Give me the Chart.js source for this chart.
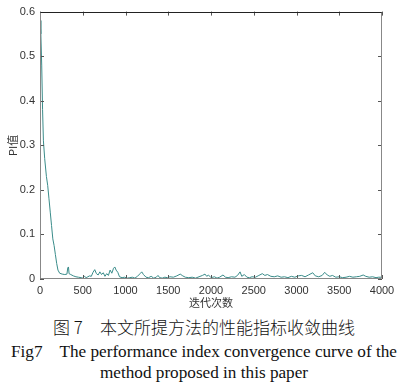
<!DOCTYPE html>
<html>
<head>
<meta charset="utf-8">
<script src="https://cdn.jsdelivr.net/npm/chart.js@4/dist/chart.umd.min.js"></script>
<style>
  html,body{margin:0;padding:0;background:#fff;}
  #wrap{position:relative;width:408px;height:312px;}
  .cap{position:absolute;left:0;width:408px;text-align:center;color:#111;white-space:pre;}
  #c1{top:315px;font-family:"Noto Sans CJK SC";font-size:17px;line-height:24px;font-weight:300;}
  #c2{top:340px;font-family:"Liberation Serif","Times New Roman",serif;font-size:17.2px;line-height:24px;}
  #c3{top:361px;font-family:"Liberation Serif","Times New Roman",serif;font-size:17.2px;line-height:24px;}
</style>
</head>
<body>
<div id="wrap"><canvas id="chart" width="408" height="312"></canvas></div>
<div class="cap" id="c1">图 7　本文所提方法的性能指标收敛曲线</div>
<div class="cap" id="c2">Fig7    The performance index convergence curve of the</div>
<div class="cap" id="c3">method proposed in this paper</div>
<script>
const iterations = [0,10,20,30,40,55,75,90,105,120,135,150,165,180,195,210,230,260,290,315,325,333,340,360,390,420,450,480,500,520,540,560,580,600,620,640,660,680,700,720,740,760,780,800,820,840,860,875,890,910,930,960,990,1020,1050,1080,1110,1140,1170,1190,1210,1240,1270,1300,1330,1360,1380,1400,1430,1460,1490,1520,1560,1600,1640,1670,1700,1740,1780,1820,1860,1900,1930,1950,1970,2000,2040,2070,2100,2140,2170,2200,2240,2280,2310,2340,2360,2390,2420,2450,2480,2520,2560,2600,2630,2660,2700,2740,2780,2820,2860,2900,2940,2980,3020,3060,3100,3140,3190,3220,3260,3300,3330,3360,3390,3420,3460,3500,3540,3580,3620,3660,3700,3740,3780,3810,3850,3890,3930,3960,4000];
const piValues = [0.58,0.55,0.48,0.38,0.31,0.27,0.23,0.21,0.18,0.15,0.12,0.09,0.075,0.055,0.035,0.02,0.013,0.011,0.01,0.011,0.025,0.027,0.012,0.01,0.007,0.005,0.004,0.003,0.002,0.006,0.003,0.005,0.007,0.006,0.015,0.021,0.012,0.009,0.016,0.01,0.014,0.006,0.012,0.008,0.02,0.013,0.024,0.027,0.02,0.015,0.005,0.003,0.004,0.002,0.003,0.004,0.002,0.006,0.012,0.016,0.01,0.004,0.003,0.006,0.002,0.004,0.008,0.003,0.002,0.004,0.003,0.005,0.004,0.007,0.011,0.007,0.004,0.003,0.004,0.002,0.005,0.008,0.011,0.006,0.009,0.003,0.005,0.002,0.004,0.009,0.004,0.003,0.005,0.004,0.008,0.016,0.006,0.01,0.004,0.003,0.005,0.004,0.008,0.012,0.008,0.01,0.006,0.005,0.007,0.004,0.005,0.003,0.006,0.004,0.007,0.008,0.005,0.009,0.014,0.007,0.005,0.008,0.015,0.009,0.006,0.008,0.004,0.005,0.003,0.004,0.006,0.004,0.005,0.006,0.009,0.006,0.004,0.005,0.003,0.004,0.004];
const xTicks = [0,500,1000,1500,2000,2500,3000,3500,4000];
const yTicks = [0,0.1,0.2,0.3,0.4,0.5,0.6];
const xTitle = '迭代次数';
const yTitle = 'PI值';

const framePlugin = {
  id:'frame',
  afterDatasetsDraw(chart){
    const {ctx, chartArea:a, scales:{x,y}} = chart;
    ctx.save();
    ctx.lineWidth = 1;
    ctx.strokeStyle = '#555';
    ctx.beginPath();
    xTicks.forEach(v=>{const px=Math.round(x.getPixelForValue(v))+0.5;
      ctx.moveTo(px,a.bottom);ctx.lineTo(px,a.bottom-4);
      ctx.moveTo(px,a.top);ctx.lineTo(px,a.top+4);});
    yTicks.forEach(v=>{const py=Math.round(y.getPixelForValue(v))+0.5;
      ctx.moveTo(a.left,py);ctx.lineTo(a.left+4,py);
      ctx.moveTo(a.right,py);ctx.lineTo(a.right-4,py);});
    ctx.stroke();
    ctx.strokeStyle='#888';
    ctx.beginPath();
    const L=Math.round(a.left)+0.5,R=Math.round(a.right)-0.5,T=Math.round(a.top)+0.5,B=Math.round(a.bottom)-0.5;
    ctx.moveTo(L,T);ctx.lineTo(L,B);ctx.lineTo(R,B);ctx.lineTo(R,T);
    ctx.stroke();
    ctx.strokeStyle='#222';
    ctx.beginPath();ctx.moveTo(L,T);ctx.lineTo(R,T);ctx.stroke();
    ctx.restore();
  }
};

new Chart(document.getElementById('chart'),{
  type:'line',
  data:{datasets:[{data:iterations.map((v,i)=>({x:v,y:piValues[i]})),
    borderColor:'#3a8c8a',borderWidth:1,pointRadius:0,tension:0,fill:false}]},
  options:{
    responsive:false,animation:false,
    layout:{padding:{left:0,right:26,top:11,bottom:0}},
    plugins:{legend:{display:false},tooltip:{enabled:false}},
    scales:{
      x:{type:'linear',min:0,max:4000,
        afterBuildTicks(s){s.ticks=xTicks.map(v=>({value:v}));},
        afterFit(s){s.height=33;},
        grid:{display:false,drawTicks:false},
        border:{display:false},
        ticks:{padding:5,color:'#333',font:{family:'Liberation Sans',size:11},maxRotation:0,autoSkip:false,callback:v=>String(v)},
        title:{display:true,text:xTitle,color:'#333',font:{family:'Noto Sans CJK SC',size:11},padding:{top:0,bottom:3}}
      },
      y:{type:'linear',min:0,max:0.6,
        afterBuildTicks(s){s.ticks=yTicks.map(v=>({value:v}));},
        afterFit(s){s.width=40;},
        grid:{display:false,drawTicks:false},
        border:{display:false},
        ticks:{padding:5,color:'#333',font:{family:'Liberation Sans',size:11},callback:v=>String(+v.toFixed(1))},
        title:{display:true,text:yTitle,color:'#333',font:{family:'Noto Sans CJK SC',size:11},padding:{top:6,bottom:0}}
      }
    }
  },
  plugins:[framePlugin]
});
</script>
</body>
</html>
